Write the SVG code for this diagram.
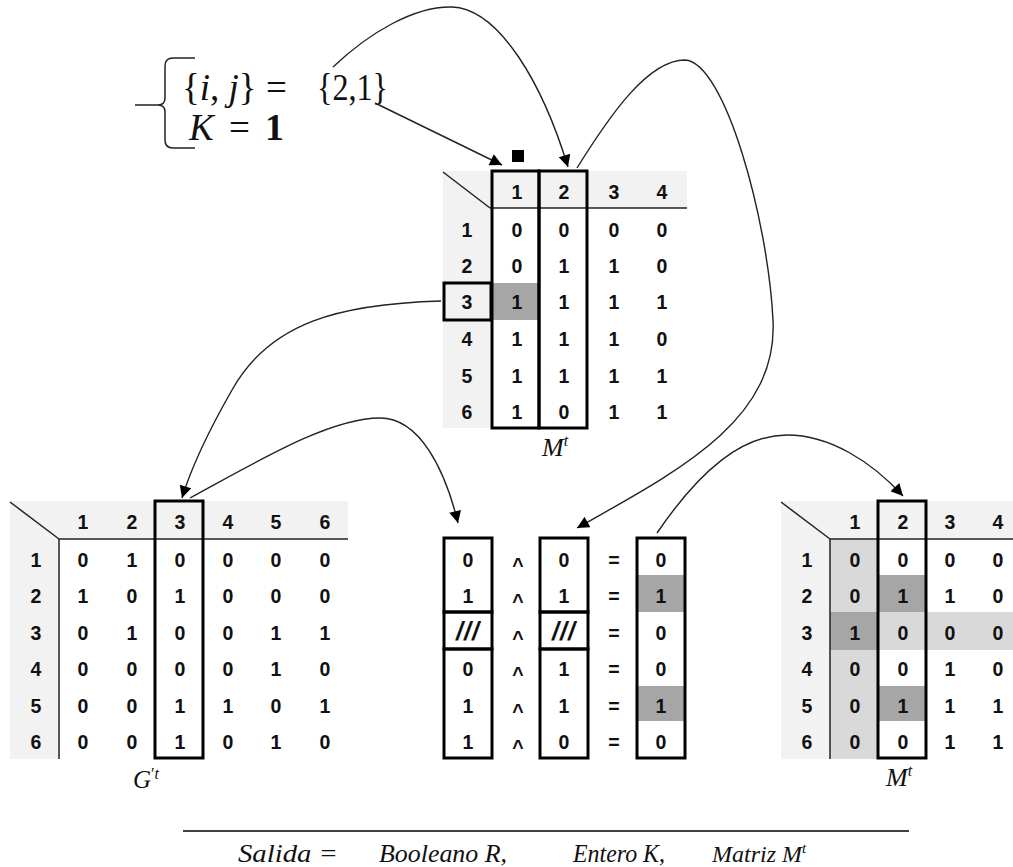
<svg xmlns="http://www.w3.org/2000/svg" width="1013" height="867" viewBox="0 0 1013 867">
<style>
.c{font-family:"Liberation Sans",Arial,sans-serif;font-weight:bold;font-size:19.5px;text-anchor:middle;fill:#111}
.c.s{font-size:25px;letter-spacing:1px}
.m{font-family:"Liberation Serif","Times New Roman",serif;fill:#111}
.i{font-style:italic}
.hd{fill:#f2f2f2}
.dk{fill:#a6a6a6}
.lt{fill:#d9d9d9}
.thin{stroke:#222;stroke-width:1.5;fill:none}
.box{stroke:#000;stroke-width:3;fill:none}
.con{stroke:#222;stroke-width:1.4;fill:none;marker-end:url(#ah)}
</style>
<defs>
<marker id="ah" viewBox="0 0 10 10" refX="10" refY="5" markerWidth="14" markerHeight="12" markerUnits="userSpaceOnUse" orient="auto"><path d="M0,0 L10,5 L0,10 z" fill="#000"/></marker>
</defs>
<rect width="1013" height="867" fill="#fff"/>

<g id="formula">
<path class="thin" d="M135,105 L158,105 Q165,105 165,98 L165,66 Q165,58 173,58 L195,58 M158,105 Q165,105 165,112 L165,140 Q165,148 173,148 L195,148" stroke="#444"/>
<text class="m" x="182" y="100" font-size="37">{<tspan class="i">i</tspan>, <tspan class="i">j</tspan>}</text>
<text class="m" x="266" y="100" font-size="37">=</text>
<text class="m" x="317" y="100" font-size="38" textLength="71" lengthAdjust="spacingAndGlyphs">{2,1}</text>
<text class="m i" x="189" y="140" font-size="37">K</text>
<text class="m" x="229" y="140" font-size="37">=</text>
<text class="m" x="265" y="140" font-size="38" font-weight="bold">1</text>
</g>

<g id="matrix-top">
<rect class="hd" x="443" y="171" width="244" height="37"/>
<rect class="hd" x="443" y="171" width="47" height="257"/>
<rect class="dk" x="491" y="283" width="48" height="37"/>
<line class="thin" x1="443" y1="172" x2="490" y2="208"/>
<line class="thin" x1="490" y1="208" x2="687" y2="208"/>
<rect x="512" y="150" width="12" height="12" fill="#000"/>
<rect class="box" x="492" y="171" width="47" height="257"/>
<rect class="box" x="539" y="171" width="48" height="257"/>
<rect class="box" x="444" y="283" width="47" height="37"/>
<text class="c" x="517" y="199">1</text><text class="c" x="564" y="199">2</text><text class="c" x="614" y="199">3</text><text class="c" x="662" y="199">4</text>
<text class="c" x="467" y="237">1</text><text class="c" x="517" y="237">0</text><text class="c" x="564" y="237">0</text><text class="c" x="614" y="237">0</text><text class="c" x="662" y="237">0</text>
<text class="c" x="467" y="273">2</text><text class="c" x="517" y="273">0</text><text class="c" x="564" y="273">1</text><text class="c" x="614" y="273">1</text><text class="c" x="662" y="273">0</text>
<text class="c" x="467" y="309">3</text><text class="c" x="517" y="309">1</text><text class="c" x="564" y="309">1</text><text class="c" x="614" y="309">1</text><text class="c" x="662" y="309">1</text>
<text class="c" x="467" y="346">4</text><text class="c" x="517" y="346">1</text><text class="c" x="564" y="346">1</text><text class="c" x="614" y="346">1</text><text class="c" x="662" y="346">0</text>
<text class="c" x="467" y="383">5</text><text class="c" x="517" y="383">1</text><text class="c" x="564" y="383">1</text><text class="c" x="614" y="383">1</text><text class="c" x="662" y="383">1</text>
<text class="c" x="467" y="419">6</text><text class="c" x="517" y="419">1</text><text class="c" x="564" y="419">0</text><text class="c" x="614" y="419">1</text><text class="c" x="662" y="419">1</text>
<text class="m i" x="542" y="456" font-size="26">M<tspan dy="-10" font-size="16">t</tspan></text>
</g>

<g id="matrix-g">
<rect class="hd" x="10" y="501" width="338" height="38"/>
<rect class="hd" x="10" y="501" width="49" height="258"/>
<line class="thin" x1="10" y1="502" x2="59" y2="539"/>
<line class="thin" x1="59" y1="539" x2="348" y2="539"/>
<line class="thin" x1="59" y1="539" x2="59" y2="759"/>
<rect class="box" x="155" y="501" width="48" height="257"/>
<text class="c" x="83" y="529">1</text><text class="c" x="132" y="529">2</text><text class="c" x="180" y="529">3</text><text class="c" x="228" y="529">4</text><text class="c" x="276" y="529">5</text><text class="c" x="325" y="529">6</text>
<text class="c" x="36" y="567">1</text><text class="c" x="83" y="567">0</text><text class="c" x="132" y="567">1</text><text class="c" x="180" y="567">0</text><text class="c" x="228" y="567">0</text><text class="c" x="276" y="567">0</text><text class="c" x="325" y="567">0</text>
<text class="c" x="36" y="603">2</text><text class="c" x="83" y="603">1</text><text class="c" x="132" y="603">0</text><text class="c" x="180" y="603">1</text><text class="c" x="228" y="603">0</text><text class="c" x="276" y="603">0</text><text class="c" x="325" y="603">0</text>
<text class="c" x="36" y="640">3</text><text class="c" x="83" y="640">0</text><text class="c" x="132" y="640">1</text><text class="c" x="180" y="640">0</text><text class="c" x="228" y="640">0</text><text class="c" x="276" y="640">1</text><text class="c" x="325" y="640">1</text>
<text class="c" x="36" y="676">4</text><text class="c" x="83" y="676">0</text><text class="c" x="132" y="676">0</text><text class="c" x="180" y="676">0</text><text class="c" x="228" y="676">0</text><text class="c" x="276" y="676">1</text><text class="c" x="325" y="676">0</text>
<text class="c" x="36" y="713">5</text><text class="c" x="83" y="713">0</text><text class="c" x="132" y="713">0</text><text class="c" x="180" y="713">1</text><text class="c" x="228" y="713">1</text><text class="c" x="276" y="713">0</text><text class="c" x="325" y="713">1</text>
<text class="c" x="36" y="749">6</text><text class="c" x="83" y="749">0</text><text class="c" x="132" y="749">0</text><text class="c" x="180" y="749">1</text><text class="c" x="228" y="749">0</text><text class="c" x="276" y="749">1</text><text class="c" x="325" y="749">0</text>
<text class="m i" x="133" y="788" font-size="25">G<tspan dy="-9" font-size="16" font-style="normal">′</tspan><tspan font-size="16">t</tspan></text>
</g>

<g id="col-a">
<rect class="box" x="444" y="538" width="48" height="74"/>
<rect class="box" x="444" y="612" width="48" height="37"/>
<rect class="box" x="444" y="649" width="48" height="109"/>
<text class="c" x="468" y="567">0</text>
<text class="c" x="468" y="603">1</text>
<text class="c i s" x="468" y="640">///</text>
<text class="c" x="468" y="676">0</text>
<text class="c" x="468" y="713">1</text>
<text class="c" x="468" y="749">1</text>
</g>

<g id="ops">
<text class="c" x="518" y="572">^</text><text class="c" x="518" y="608">^</text><text class="c" x="518" y="645">^</text><text class="c" x="518" y="681">^</text><text class="c" x="518" y="718">^</text><text class="c" x="518" y="754">^</text>
<text class="c" x="614" y="567">=</text><text class="c" x="614" y="603">=</text><text class="c" x="614" y="640">=</text><text class="c" x="614" y="676">=</text><text class="c" x="614" y="713">=</text><text class="c" x="614" y="749">=</text>
</g>

<g id="col-b">
<rect class="box" x="540" y="538" width="48" height="74"/>
<rect class="box" x="540" y="612" width="48" height="37"/>
<rect class="box" x="540" y="649" width="48" height="109"/>
<text class="c" x="564" y="567">0</text>
<text class="c" x="564" y="603">1</text>
<text class="c i s" x="564" y="640">///</text>
<text class="c" x="564" y="676">1</text>
<text class="c" x="564" y="713">1</text>
<text class="c" x="564" y="749">0</text>
</g>

<g id="col-c">
<rect class="dk" x="638" y="575" width="46" height="37"/>
<rect class="dk" x="638" y="686" width="46" height="35"/>
<rect class="box" x="637" y="538" width="48" height="220"/>
<text class="c" x="661" y="567">0</text>
<text class="c" x="661" y="603">1</text>
<text class="c" x="661" y="640">0</text>
<text class="c" x="661" y="676">0</text>
<text class="c" x="661" y="713">1</text>
<text class="c" x="661" y="749">0</text>
</g>

<g id="matrix-right">
<rect class="hd" x="781" y="501" width="232" height="38"/>
<rect class="hd" x="781" y="501" width="49" height="258"/>
<rect class="lt" x="830" y="539" width="47" height="220"/>
<rect class="lt" x="877" y="612" width="136" height="38"/>
<rect class="dk" x="830" y="612" width="47" height="38"/>
<rect class="dk" x="877" y="575" width="49" height="37"/>
<rect class="dk" x="877" y="686" width="49" height="35"/>
<line class="thin" x1="781" y1="502" x2="830" y2="539"/>
<line class="thin" x1="830" y1="539" x2="1013" y2="539"/>
<line class="thin" x1="830" y1="539" x2="830" y2="759"/>
<rect class="box" x="878" y="501" width="48" height="257"/>
<text class="c" x="855" y="529">1</text><text class="c" x="903" y="529">2</text><text class="c" x="950" y="529">3</text><text class="c" x="998" y="529">4</text>
<text class="c" x="807" y="567">1</text><text class="c" x="855" y="567">0</text><text class="c" x="903" y="567">0</text><text class="c" x="950" y="567">0</text><text class="c" x="998" y="567">0</text>
<text class="c" x="807" y="603">2</text><text class="c" x="855" y="603">0</text><text class="c" x="903" y="603">1</text><text class="c" x="950" y="603">1</text><text class="c" x="998" y="603">0</text>
<text class="c" x="807" y="640">3</text><text class="c" x="855" y="640">1</text><text class="c" x="903" y="640">0</text><text class="c" x="950" y="640">0</text><text class="c" x="998" y="640">0</text>
<text class="c" x="807" y="676">4</text><text class="c" x="855" y="676">0</text><text class="c" x="903" y="676">0</text><text class="c" x="950" y="676">1</text><text class="c" x="998" y="676">0</text>
<text class="c" x="807" y="713">5</text><text class="c" x="855" y="713">0</text><text class="c" x="903" y="713">1</text><text class="c" x="950" y="713">1</text><text class="c" x="998" y="713">1</text>
<text class="c" x="807" y="749">6</text><text class="c" x="855" y="749">0</text><text class="c" x="903" y="749">0</text><text class="c" x="950" y="749">1</text><text class="c" x="998" y="749">1</text>
<text class="m i" x="886" y="786" font-size="26">M<tspan dy="-10" font-size="16">t</tspan></text>
</g>

<g id="output">
<line x1="183" y1="831" x2="909" y2="831" stroke="#000" stroke-width="1.5"/>
<text class="m i" x="238" y="862" font-size="25" textLength="100" lengthAdjust="spacingAndGlyphs">Salida =</text>
<text class="m i" x="379" y="862" font-size="25" textLength="128" lengthAdjust="spacingAndGlyphs">Booleano R,</text>
<text class="m i" x="573" y="862" font-size="25" textLength="92" lengthAdjust="spacingAndGlyphs">Entero K,</text>
<text class="m i" x="712" y="862" font-size="24">Matriz M<tspan dy="-9" font-size="15">t</tspan></text>
</g>

<g id="connectors">
<path class="con" d="M375,103 L502,165"/>
<path class="con" d="M333,67 C370,32 415,6 452,7 C500,9 543,85 568,167"/>
<path class="con" d="M577,168 C610,115 648,60 685,60 C725,62 768,220 773,320 C778,420 680,470 577,528"/>
<path class="con" d="M441,301 C340,304 270,322 232,390 C212,425 193,462 182,498"/>
<path class="con" d="M190,498 C260,460 330,418 380,418 C420,418 445,470 458,523"/>
<path class="con" d="M657,533 C700,470 742,435 787,435 C830,435 872,462 903,496"/>
</g>
</svg>
